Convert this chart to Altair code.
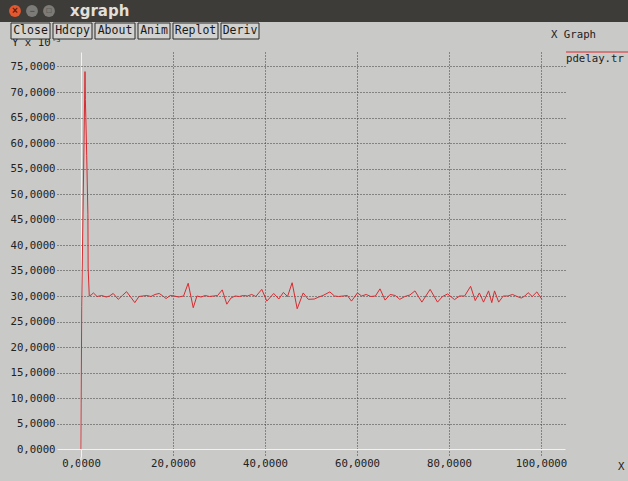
import altair as alt
import pandas as pd

# pdelay.tr : packet delay over time (delay in units of 10^-3)
time_s = [
    0.0, 0.05, 0.15, 0.87, 0.95, 1.05, 1.24, 1.5, 1.55, 1.8, 2.2,
    2.7, 3.5, 4.5, 5.5, 6.2, 7.0, 8.1, 9.0, 9.9, 10.8, 11.7, 12.6, 13.4,
    14.3, 15.2, 16.1, 17.0, 17.8, 18.5, 19.4, 20.3, 21.2, 22.3, 23.3, 24.4,
    25.2, 26.1, 27.0, 27.9, 28.8, 29.7, 30.7, 31.7, 32.6, 33.5, 34.4, 35.3,
    36.2, 37.1, 38.0, 39.3, 40.4, 41.9, 43.0, 44.0, 44.9, 45.9, 47.0, 48.3,
    49.4, 50.7, 51.7, 52.6, 54.1, 55.1, 56.0, 57.0, 57.9, 58.8, 60.1, 61.0,
    62.0, 63.0, 64.0, 65.0, 66.1, 67.2, 68.3, 69.3, 70.4, 71.5, 72.6, 74.1,
    75.9, 77.5, 78.6, 79.7, 81.2, 82.3, 83.4, 84.7, 85.7, 86.6, 87.5, 88.6,
    89.3, 89.9, 90.8, 91.8, 92.8, 93.8, 94.8, 95.7, 96.5, 97.2, 98.1, 99.1,
    100.2,
]
delay = [
    0.0, 9.0, 28.0, 74.0, 68.5, 65.0, 57.5, 46.0, 35.5, 30.0, 30.2,
    30.6, 29.9, 30.1, 29.8, 30.0, 30.5, 29.35, 30.1, 30.85, 29.8, 28.7, 29.9, 30.0,
    30.1, 29.9, 30.3, 30.5, 30.0, 29.5, 30.1, 30.0, 29.8, 30.0, 32.5, 27.7,
    30.0, 29.8, 30.1, 29.9, 30.0, 30.1, 31.2, 28.4, 29.6, 30.0, 29.9, 30.1,
    30.0, 30.3, 29.9, 31.3, 29.0, 30.5, 29.4, 30.7, 29.9, 32.6, 27.5, 30.6,
    29.35, 29.4, 29.8, 30.1, 30.8, 30.0, 29.9, 30.0, 30.1, 29.0, 30.6, 30.0,
    30.3, 29.9, 30.0, 31.4, 29.2, 30.3, 30.1, 29.35, 29.9, 30.2, 31.0, 28.8,
    31.3, 28.8, 29.9, 30.4, 29.3, 30.0, 30.0, 31.9, 29.1, 30.6, 28.8, 31.0,
    28.7, 31.0, 28.8, 30.0, 30.0, 30.3, 29.9, 29.6, 30.0, 30.65, 29.9, 30.8,
    29.35,
]

x_ticks = [0, 20, 40, 60, 80, 100]
y_ticks = list(range(0, 80, 5))

series_name = "pdelay.tr"
window_title = "xgraph"
button_labels = ["Close", "Hdcpy", "About", "Anim", "Replot", "Deriv"]

# ---- window geometry (canvas pixels) ----
W, H = 628, 481
PL, PT, PR, PB = 57, 52, 565, 457          # grid rectangle
X0_PX, X_PER_UNIT = 81, 4.6                # where x=0 sits, px per x unit
Y0_PX, Y_PER_UNIT = 449, 5.1               # where y=0 sits, px per y unit

x_dom = [(PL - X0_PX) / X_PER_UNIT, (PR - X0_PX) / X_PER_UNIT]
y_dom = [(Y0_PX - PB) / Y_PER_UNIT, (Y0_PX - PT) / Y_PER_UNIT]

BG = "#c9c9c7"
MONO = "DejaVu Sans Mono"
FS = 10.7


def cx(v):
    return v - PL


def cy(v):
    return v - PT


one = pd.DataFrame({"k": [0]})
zero_test = "datum.value === 0"
fmt = "replace(format(datum.value, '.4f'), '.', ',')"
grid_color = {"condition": {"test": zero_test, "value": "#f2f2f0"}, "value": "#3c3c3c"}
grid_dash = {"condition": {"test": zero_test, "value": []}, "value": [1, 2]}

df = pd.DataFrame({"t": time_s, "d": delay})

line = alt.Chart(df).mark_line(color="#d92a30", strokeWidth=1, clip=False).encode(
    x=alt.X(
        "t:Q",
        scale=alt.Scale(domain=x_dom, nice=False, zero=False),
        axis=alt.Axis(
            values=x_ticks, title=None, orient="bottom", domain=False, ticks=False,
            labelExpr=fmt, labelFont=MONO, labelFontSize=FS, labelColor="#222",
            labelPadding=1, labelFlush=False, labelOverlap=False,
            grid=True, gridColor=grid_color, gridDash=grid_dash,
            gridWidth=1, gridOpacity=1,
        ),
    ),
    y=alt.Y(
        "d:Q",
        scale=alt.Scale(domain=y_dom, nice=False, zero=False),
        axis=alt.Axis(
            values=y_ticks, title=None, orient="left", domain=False, ticks=False,
            labelExpr=fmt, labelFont=MONO, labelFontSize=FS, labelColor="#222",
            labelPadding=2, labelOverlap=False,
            grid=True, gridColor=grid_color, gridDash=grid_dash,
            gridWidth=1, gridOpacity=1,
        ),
    ),
)

# the x=0 axis line runs on below the grid down to the tick labels
zero_ext = alt.Chart(one).mark_rule(color="#f2f2f0", strokeWidth=1).encode(
    x=alt.value(cx(X0_PX)), y=alt.value(cy(PB)), y2=alt.value(cy(470)))


def rect(x1, y1, x2, y2, **kw):
    return alt.Chart(one).mark_rect(**kw).encode(
        x=alt.value(cx(x1)), x2=alt.value(cx(x2)),
        y=alt.value(cy(y1)), y2=alt.value(cy(y2)),
    )


def text(s, x, y, **kw):
    return alt.Chart(one).mark_text(text=s, **kw).encode(
        x=alt.value(cx(x)), y=alt.value(cy(y))
    )


def dot(x, y, color):
    return alt.Chart(one).mark_circle(size=140, color=color, opacity=1).encode(
        x=alt.value(cx(x)), y=alt.value(cy(y)))


# y scale caption, partly hidden behind the button row
caption = text("Y x 10", 12, 43, font=MONO, fontSize=FS, color="#222",
               align="left", baseline="middle")
caption_exp = text("-3", 52, 40, font=MONO, fontSize=7, color="#222",
                   align="left", baseline="middle")

# title bar
title_bar = rect(0, 0, W, 22, color="#3d3c38")
close_dot = dot(15, 11, "#e5582f")
close_x = text("×", 15, 11, fontSize=10, color="#5a1d0c", fontWeight="bold",
               align="center", baseline="middle")
min_dot = dot(32, 11, "#7c7b77")
max_dot = dot(49, 11, "#7c7b77")
min_sym = text("−", 32, 11, fontSize=9, color="#3d3c38", align="center", baseline="middle")
max_sym = text("□", 49, 11, fontSize=8, color="#3d3c38", align="center", baseline="middle")
title_txt = text(window_title, 70, 11, font="DejaVu Sans", fontSize=15,
                 fontWeight="bold", color="#e2dfd8", align="left", baseline="middle")

# button row
btn_left = [11, 53, 95, 138, 173, 221]
btn_right = [50, 92, 135, 170, 218, 259]
btn_df = pd.DataFrame({
    "label": button_labels,
    "l": [cx(v) for v in btn_left],
    "r": [cx(v) for v in btn_right],
})
btn_df["c"] = (btn_df["l"] + btn_df["r"]) / 2
btn_box = alt.Chart(btn_df).mark_rect(fill="#d2d2d0", stroke="#2a2a2a", strokeWidth=1).encode(
    x=alt.X("l:Q", scale=None), x2="r:Q",
    y=alt.value(cy(23)), y2=alt.value(cy(39)),
)
btn_txt = alt.Chart(btn_df).mark_text(font=MONO, fontSize=11.5, color="#1a1a1a",
                                      baseline="middle").encode(
    x=alt.X("c:Q", scale=None), y=alt.value(cy(31)), text="label:N")

xgraph_lbl = text("X Graph", 551, 35, font=MONO, fontSize=FS, color="#222",
                  align="left", baseline="middle")

# legend
legend_rule = alt.Chart(one).mark_rule(color="#d92a30", strokeWidth=1).encode(
    x=alt.value(cx(566)), x2=alt.value(cx(W)), y=alt.value(cy(52)))
legend_txt = text(series_name, 566, 59, font=MONO, fontSize=FS, color="#222",
                  align="left", baseline="middle")

x_name = text("X", 618, 467, font=MONO, fontSize=FS, color="#222",
              align="left", baseline="middle")

chart = alt.layer(
    zero_ext, line, caption, caption_exp, title_bar, close_dot, close_x,
    min_dot, max_dot, min_sym, max_sym, title_txt, btn_box, btn_txt,
    xgraph_lbl, legend_rule, legend_txt, x_name,
).properties(
    width=PR - PL, height=PB - PT,
    padding={"left": PL, "top": PT, "right": W - PR, "bottom": H - PB},
    autosize=alt.AutoSizeParams(type="none"),
    background=BG,
).configure_view(stroke=None, fill=BG)

chart.save("out.html", embed_options={"renderer": "svg", "actions": False})
